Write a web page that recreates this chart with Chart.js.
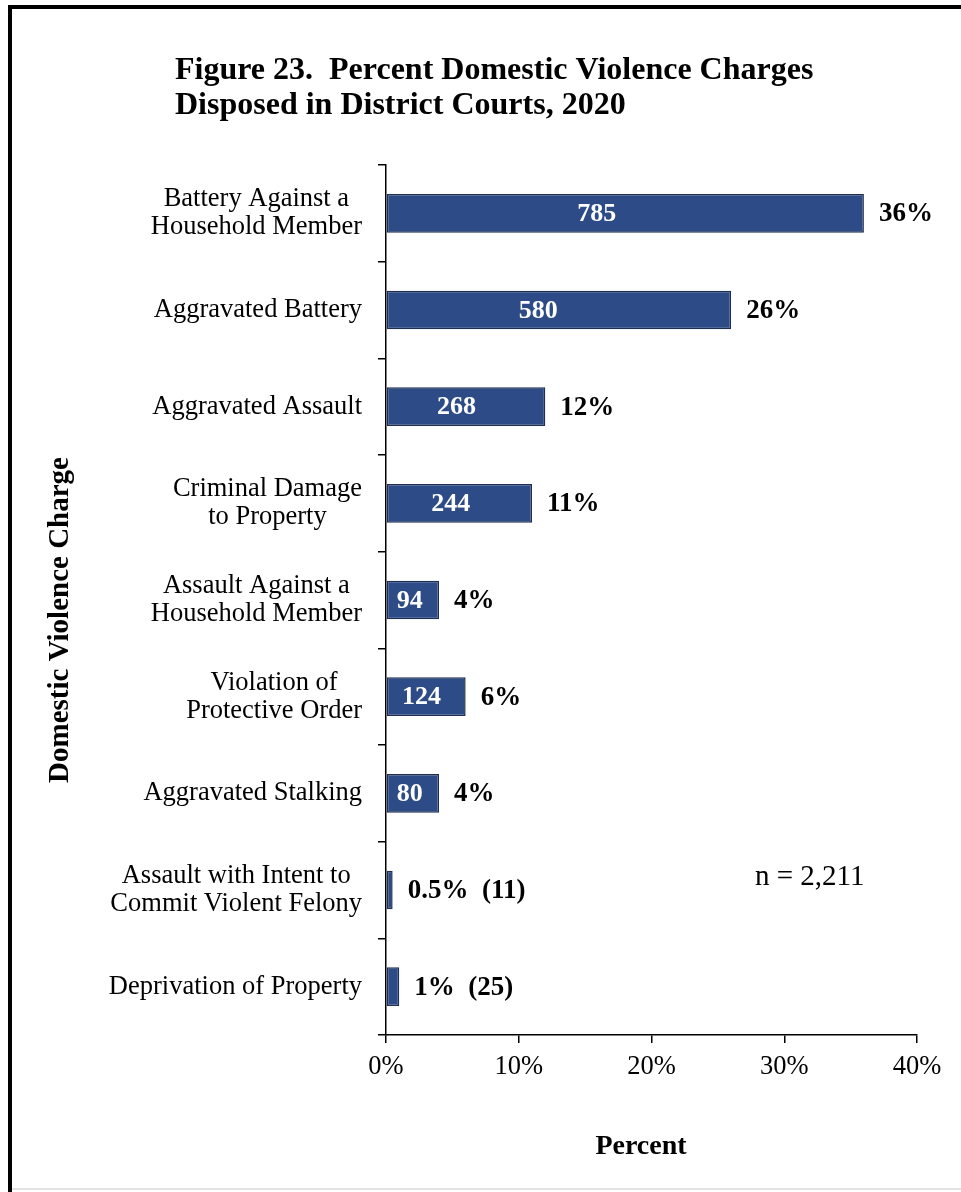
<!DOCTYPE html>
<html>
<head>
<meta charset="utf-8">
<title>Figure 23</title>
<script src="https://cdn.jsdelivr.net/npm/chart.js@4"></script>
<style>
  html, body { margin: 0; padding: 0; background: #fff; }
  #wrap { width: 961px; height: 1192px; position: relative; }
</style>
</head>
<body>
<div id="wrap"><canvas id="chart" width="961" height="1192"></canvas></div>
<script>
const categories = [
  ["Battery Against a", "Household Member"],
  "Aggravated Battery",
  "Aggravated Assault",
  ["Criminal Damage", "to Property"],
  ["Assault Against a", "Household Member"],
  ["Violation of", "Protective Order"],
  "Aggravated Stalking",
  ["Assault with Intent to", "Commit Violent Felony"],
  "Deprivation of Property"
];
const percents = [36, 26, 12, 11, 4, 6, 4, 0.5, 1];
const counts = [785, 580, 268, 244, 94, 124, 80, 11, 25];
const xTickValues = [0, 10, 20, 30, 40];
const titleLines = ["Figure 23.  Percent Domestic Violence Charges", "Disposed in District Courts, 2020"];
const sampleNote = "n = 2,211";

const SERIF = '"Liberation Serif", "Times New Roman", serif';

// frame, title, row labels, value labels
const decor = {
  id: "decor",
  beforeDraw(chart) {
    const ctx = chart.ctx;
    ctx.save();
    ctx.fillStyle = "#000";
    ctx.fillRect(8, 5, 953, 4);
    ctx.fillRect(8, 5, 4, 1187);
    ctx.fillStyle = "#e2e2e2";
    ctx.fillRect(12, 1188, 949, 2);
    ctx.restore();
  },
  afterDraw(chart) {
    const ctx = chart.ctx;
    const y = chart.scales.y;
    const x = chart.scales.x;
    ctx.save();
    ctx.fillStyle = "#000";

    // title
    ctx.font = "bold 32px " + SERIF;
    ctx.textAlign = "left";
    ctx.textBaseline = "alphabetic";
    ctx.fillText(titleLines[0], 175, 79);
    ctx.fillText(titleLines[1], 175, 114);

    // category labels: block right-aligned, lines centred in block
    ctx.font = "26.5px " + SERIF;
    ctx.textAlign = "center";
    ctx.textBaseline = "middle";
    const lh = 28;
    categories.forEach((c, i) => {
      const lines = Array.isArray(c) ? c : [c];
      const w = Math.max(...lines.map(l => ctx.measureText(l).width));
      const cx = 362 - w / 2;
      const cy = y.getPixelForTick(i);
      lines.forEach((l, k) => {
        ctx.fillText(l, cx, cy + (k - (lines.length - 1) / 2) * lh);
      });
    });

    // axis titles
    ctx.save();
    ctx.translate(61, 620);
    ctx.rotate(-Math.PI / 2);
    ctx.font = "bold 29px " + SERIF;
    ctx.fillText("Domestic Violence Charge", 0, 0);
    ctx.restore();
    ctx.font = "bold 28px " + SERIF;
    ctx.fillText("Percent", 641, 1147);

    // n note
    ctx.font = "29px " + SERIF;
    ctx.textAlign = "left";
    ctx.fillText(sampleNote, 755, 877);
    ctx.restore();
  },
  afterDatasetsDraw(chart) {
    const ctx = chart.ctx;
    const meta = chart.getDatasetMeta(0);
    ctx.save();
    ctx.textBaseline = "middle";
    meta.data.forEach((bar, i) => {
      const len = bar.x - bar.base;
      const fits = len > 30;
      if (fits) {
        ctx.font = "bold 26px " + SERIF;
        ctx.fillStyle = "#fff";
        ctx.textAlign = "center";
        ctx.fillText(String(counts[i]), bar.base + len * 0.44, bar.y + 1);
      }
      ctx.font = "bold 27px " + SERIF;
      ctx.fillStyle = "#000";
      ctx.textAlign = "left";
      const txt = fits ? percents[i] + "%" : percents[i] + "%  (" + counts[i] + ")";
      ctx.fillText(txt, bar.x + 15, bar.y + 1);
    });
    ctx.restore();
  }
};

new Chart(document.getElementById("chart"), {
  type: "bar",
  data: {
    labels: categories,
    datasets: [{
      data: percents,
      backgroundColor: "#2D4B86",
      borderColor: "#1E2F52",
      borderWidth: 1.5,
      borderSkipped: false,
      barPercentage: 0.4,
      categoryPercentage: 1
    }]
  },
  options: {
    indexAxis: "y",
    responsive: false,
    animation: false,
    devicePixelRatio: 1,
    layout: { padding: { top: 165, right: 44, left: 0, bottom: 0 } },
    plugins: {
      legend: { display: false },
      tooltip: { enabled: false }
    },
    scales: {
      x: {
        min: 0,
        max: 40,
        afterBuildTicks: s => { s.ticks = xTickValues.map(v => ({ value: v })); },
        afterFit: s => { s.height = 1192 - 1035; },
        ticks: {
          color: "#000",
          padding: 8,
          font: { family: SERIF, size: 26.5 },
          callback: v => v + "%"
        },
        grid: { drawOnChartArea: false, drawTicks: true, tickLength: 8, color: "#000", lineWidth: 1.5 },
        border: { display: true, color: "#000", width: 1.5 },
        title: { display: false }
      },
      y: {
        afterFit: s => { s.width = 386; },
        ticks: { display: false },
        grid: { offset: true, drawOnChartArea: false, drawTicks: true, tickLength: 8, color: "#000", lineWidth: 1.5 },
        border: { display: true, color: "#000", width: 1.5 }
      }
    }
  },
  plugins: [decor]
});
</script>
</body>
</html>
